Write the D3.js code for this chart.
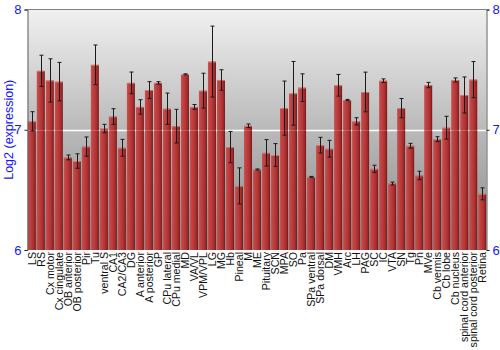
<!DOCTYPE html>
<html>
<head>
<meta charset="utf-8">
<script src="https://cdn.jsdelivr.net/npm/d3@7"></script>
<style>
  body { margin: 0; background: #fff; }
  text { font-family: "Liberation Sans", Arial, sans-serif; }
</style>
</head>
<body>
<div id="chart"></div>
<script>
var categories = ["LS", "RS", "Cx motor", "Cx cingulate", "OB anterior", "OB posterior", "Pir", "Tu",
    "ventral S", "CA1", "CA2/CA3", "DG", "A anterior", "A posterior", "GP", "CPu lateral", "CPu medial",
    "MD", "VA/VL", "VPM/VPL", "LG", "MG", "Hb", "Pineal", "M", "ME", "Pituitary", "SCN", "MPA", "SO",
    "Pa", "SPa ventral", "SPa dorsal", "DM", "VMH", "Arc", "LH", "PAG", "SC", "IC", "VTA", "SN", "Tg",
    "Pn", "MVe", "Cb vermis", "Cb lobe", "Cb nucleus", "spinal cord anterior", "spinal cord posterior", "Retina"];
var means = [7.07, 7.49, 7.41, 7.40, 6.77, 6.74, 6.86, 7.54, 7.01, 7.11, 6.85, 7.39, 7.19, 7.33, 7.39,
    7.175, 7.03, 7.46, 7.19, 7.325, 7.567, 7.414, 6.856, 6.533, 7.033, 6.669, 6.808, 6.79, 7.18, 7.303,
    7.35, 6.608, 6.872, 6.842, 7.37, 7.247, 7.07, 7.314, 6.675, 7.408, 6.553, 7.18, 6.867, 6.62, 7.372,
    6.922, 7.017, 7.414, 7.289, 7.417, 6.467];
var errors = [0.08, 0.13, 0.18, 0.16, 0.02, 0.06, 0.08, 0.165, 0.035, 0.065, 0.07, 0.09, 0.06, 0.07, 0.01,
    0.13, 0.14, 0.005, 0.02, 0.145, 0.295, 0.085, 0.13, 0.15, 0.015, 0.005, 0.11, 0.095, 0.225, 0.265,
    0.115, 0.004, 0.065, 0.07, 0.09, 0.005, 0.03, 0.165, 0.03, 0.015, 0.012, 0.08, 0.02, 0.035, 0.022,
    0.02, 0.095, 0.017, 0.15, 0.15, 0.05];
var yTicks = [6, 7, 8];
var yLabel = "Log2 (expression)";

var width = 500, height = 350;
var plotLeft = 27.5, plotRight = 486.5, plotTop = 9.5, plotBottom = 250;

var svg = d3.select("#chart").append("svg")
    .attr("width", width)
    .attr("height", height);

var defs = svg.append("defs");
// background gradient
var bg = defs.append("linearGradient").attr("id", "bg")
    .attr("x1", 0).attr("y1", 0).attr("x2", 0).attr("y2", 1);
bg.append("stop").attr("offset", "0%").attr("stop-color", "#f1f1f1");
bg.append("stop").attr("offset", "50%").attr("stop-color", "#b9b9b9");
bg.append("stop").attr("offset", "100%").attr("stop-color", "#8a8a8a");
// bar gradient
var bg2 = defs.append("linearGradient").attr("id", "barFill")
    .attr("x1", 0).attr("y1", 0).attr("x2", 1).attr("y2", 0);
bg2.append("stop").attr("offset", "0%").attr("stop-color", "#c85454");
bg2.append("stop").attr("offset", "20%").attr("stop-color", "#c24444");
bg2.append("stop").attr("offset", "60%").attr("stop-color", "#b23535");
bg2.append("stop").attr("offset", "85%").attr("stop-color", "#992626");
bg2.append("stop").attr("offset", "100%").attr("stop-color", "#6c1616");

var x = d3.scaleBand()
    .domain(categories)
    .range([plotLeft, plotRight])
    .paddingInner(0.11)
    .paddingOuter(0.03);

var y = d3.scaleLinear()
    .domain([6, 8])
    .range([plotBottom, plotTop]);

// plot background
svg.append("rect")
    .attr("x", plotLeft).attr("y", plotTop)
    .attr("width", plotRight - plotLeft).attr("height", plotBottom - plotTop)
    .attr("fill", "url(#bg)");

// gridline at 7
svg.append("line")
    .attr("x1", plotLeft).attr("x2", plotRight)
    .attr("y1", Math.round(y(7)) + 0.5).attr("y2", Math.round(y(7)) + 0.5)
    .attr("stroke", "#fff").attr("stroke-width", 1.5);

var data = categories.map(function(c, i) {
    return {name: c, v: means[i], e: errors[i]};
});

// bars
svg.selectAll(".bar")
    .data(data)
    .enter()
    .append("rect")
    .attr("class", "bar")
    .attr("x", function(d) { return x(d.name); })
    .attr("y", function(d) { return y(d.v); })
    .attr("width", x.bandwidth())
    .attr("height", function(d) { return plotBottom - y(d.v); })
    .attr("fill", "url(#barFill)");

// light top edge on bars
svg.selectAll(".barTop")
    .data(data)
    .enter()
    .append("rect")
    .attr("class", "barTop")
    .attr("x", function(d) { return x(d.name); })
    .attr("y", function(d) { return y(d.v); })
    .attr("width", x.bandwidth())
    .attr("height", 1)
    .attr("fill", "#e08a8a")
    .attr("opacity", 0.7);

// faint gridline over bars
svg.append("line")
    .attr("x1", plotLeft).attr("x2", plotRight)
    .attr("y1", Math.round(y(7)) + 0.5).attr("y2", Math.round(y(7)) + 0.5)
    .attr("stroke", "#fff").attr("stroke-width", 1).attr("opacity", 0.2);

// error bars
var err = svg.selectAll(".err")
    .data(data)
    .enter()
    .append("g")
    .attr("class", "err")
    .attr("stroke", "#1a1a1a")
    .attr("stroke-width", 1);

err.append("line")
    .attr("x1", function(d) { return Math.round(x(d.name) + x.bandwidth() / 2) + 0.5; })
    .attr("x2", function(d) { return Math.round(x(d.name) + x.bandwidth() / 2) + 0.5; })
    .attr("y1", function(d) { return y(d.v + d.e); })
    .attr("y2", function(d) { return y(d.v - d.e); });

err.selectAll(".cap")
    .data(function(d) { return [d.v + d.e, d.v - d.e].map(function(v) { return {name: d.name, v: v}; }); })
    .enter()
    .append("line")
    .attr("class", "cap")
    .attr("x1", function(d) { return Math.round(x(d.name) + x.bandwidth() / 2) - 1.5; })
    .attr("x2", function(d) { return Math.round(x(d.name) + x.bandwidth() / 2) + 2.5; })
    .attr("y1", function(d) { return y(d.v); })
    .attr("y2", function(d) { return y(d.v); });

// frame top
svg.append("line")
    .attr("x1", plotLeft).attr("x2", plotRight)
    .attr("y1", plotTop).attr("y2", plotTop)
    .attr("stroke", "#808080");

// left axis
var yAxisL = d3.axisLeft(y).tickValues(yTicks).tickSize(3).tickPadding(3).tickFormat(d3.format("d"));
var gL = svg.append("g")
    .attr("transform", "translate(" + plotLeft + ",0)")
    .call(yAxisL);
gL.select(".domain").attr("stroke", "#606060");
gL.selectAll(".tick line").attr("stroke", "#222");
gL.selectAll(".tick text")
    .attr("fill", "#1414ff")
    .attr("font-size", "13px")
    .style("font-family", "Liberation Sans, Arial, sans-serif");

// right axis
var yAxisR = d3.axisRight(y).tickValues(yTicks).tickSize(3).tickPadding(3).tickFormat(d3.format("d"));
var gR = svg.append("g")
    .attr("transform", "translate(" + plotRight + ",0)")
    .call(yAxisR);
gR.select(".domain").attr("stroke", "#606060");
gR.selectAll(".tick line").attr("stroke", "#222");
gR.selectAll(".tick text")
    .attr("fill", "#1414ff")
    .attr("font-size", "13px")
    .style("font-family", "Liberation Sans, Arial, sans-serif");

// x labels, rotated
svg.selectAll(".xlabel")
    .data(categories)
    .enter()
    .append("text")
    .attr("class", "xlabel")
    .attr("transform", function(d) {
        return "translate(" + (x(d) + x.bandwidth() / 2 + 4) + "," + (plotBottom + 2) + ") rotate(-90)";
    })
    .attr("text-anchor", "end")
    .attr("font-size", "10.6px")
    .attr("fill", "#111")
    .text(function(d) { return d; });

// y label
svg.append("text")
    .attr("transform", "translate(13," + ((plotTop + plotBottom) / 2) + ") rotate(-90)")
    .attr("text-anchor", "middle")
    .attr("font-size", "12.5px")
    .attr("fill", "#1414ff")
    .text(yLabel);
</script>
</body>
</html>
